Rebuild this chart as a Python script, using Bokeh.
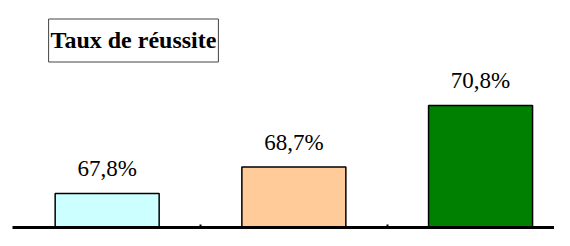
from bokeh.plotting import figure
from bokeh.models import Range1d, ColumnDataSource, Label, FixedTicker
from bokeh.embed import file_html
from bokeh.resources import INLINE

categories = ["A", "B", "C"]
values = [67.8, 68.7, 70.8]
labels = ["67,8%", "68,7%", "70,8%"]
colors = ["#CCFFFF", "#FFCC99", "#008000"]

Y0 = 66.64
xs = [i + 0.5 for i in range(len(categories))]
src = ColumnDataSource(dict(x=xs, top=values, label=labels, color=colors))

p = figure(width=554, height=230, output_backend="svg", toolbar_location=None,
           x_range=Range1d(-0.007, 2.896), y_range=Range1d(Y0, 74.38),
           min_border_left=12, min_border_right=0, min_border_top=0, min_border_bottom=3)
p.outline_line_color = None
p.xgrid.visible = False
p.ygrid.visible = False
p.yaxis.visible = False
p.background_fill_color = "white"
p.border_fill_color = "white"

p.vbar(x="x", top="top", bottom=Y0, width=0.557, fill_color="color",
       line_color="black", line_width=1.5, source=src)

p.text(x="x", y="top", text="label", source=src, y_offset=-25,
       text_align="center", text_baseline="alphabetic",
       text_font="Liberation Serif", text_font_size="23px", text_color="black")

ax = p.xaxis[0]
ax.ticker = FixedTicker(ticks=[1, 2])
ax.axis_line_width = 3
ax.axis_line_color = "black"
ax.major_tick_in = 3
ax.major_tick_out = 0
ax.major_tick_line_width = 2
ax.minor_tick_line_color = None
ax.major_label_overrides = {1: "", 2: ""}
ax.major_label_standoff = 0

title = Label(x=121, y=187, x_units="screen", y_units="screen",
              text="Taux de réussite", text_font="Liberation Serif",
              text_font_style="bold", text_font_size="24px", text_color="black",
              text_align="center", text_baseline="middle",
              border_line_color="#444444", border_line_width=1,
              background_fill_color="white",
              padding=dict(left=2, right=2, top=8, bottom=9))
p.add_layout(title)

open("out.html", "w").write(file_html(p, INLINE))
